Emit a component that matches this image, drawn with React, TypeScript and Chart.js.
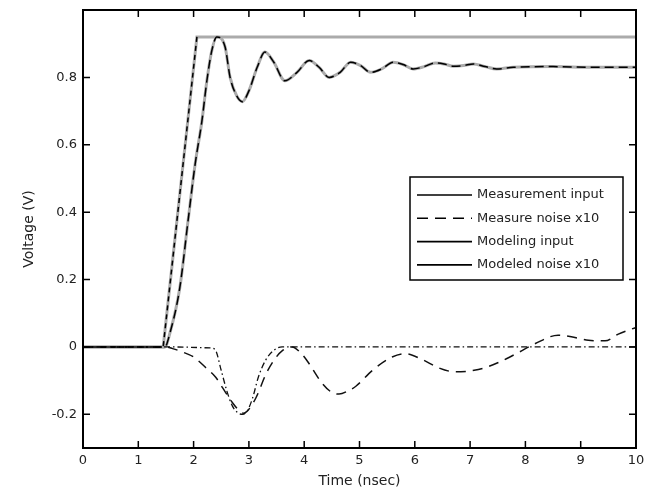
import React, { useEffect, useRef } from "react";
import { Chart, registerables } from "chart.js";

Chart.register(...registerables);

const X_TICKS = [0, 1, 2, 3, 4, 5, 6, 7, 8, 9, 10];
const Y_TICKS = [-0.2, 0, 0.2, 0.4, 0.6, 0.8];
const X_TITLE = "Time (nsec)";
const Y_TITLE = "Voltage (V)";
const LEGEND_LABELS = ["Measurement input", "Measure noise x10", "Modeling input", "Modeled noise x10"];

// Input step (black dashed over grey)
const INPUT_T = [0, 1.45, 2.06];
const INPUT_V = [0, 0, 0.92];
const MODEL_INPUT_T = [0, 1.45, 2.06, 10];
const MODEL_INPUT_V = [0, 0, 0.92, 0.92];

// Response
const RESPONSE_T = [0, 1.48, 1.57, 1.75, 1.9, 2.03, 2.15, 2.24, 2.33, 2.42, 2.57, 2.66, 2.78, 2.88, 3.0, 3.15, 3.29, 3.45, 3.65, 3.87, 4.09, 4.27, 4.45, 4.65, 4.84, 5.02, 5.2, 5.4, 5.61, 5.79, 5.97, 6.17, 6.37, 6.53, 6.7, 6.88, 7.06, 7.27, 7.48, 7.78, 8.5, 9.2, 10];
const RESPONSE_V = [0, 0, 0.04, 0.175, 0.375, 0.545, 0.67, 0.79, 0.88, 0.92, 0.89, 0.8, 0.745, 0.728, 0.76, 0.83, 0.875, 0.845, 0.79, 0.815, 0.85, 0.83, 0.8, 0.815, 0.845, 0.835, 0.815, 0.825, 0.845, 0.838, 0.825, 0.832, 0.843, 0.84, 0.833, 0.835, 0.84, 0.832, 0.825, 0.83, 0.832, 0.83, 0.83];

// Measure noise x10 (dashed)
const MEASURE_NOISE_T = [0, 1.5, 1.62, 1.8, 2.0, 2.23, 2.4, 2.52, 2.7, 2.83, 2.9, 3.0, 3.13, 3.31, 3.45, 3.6, 3.78, 3.95, 4.09, 4.32, 4.5, 4.63, 4.8, 4.94, 5.23, 5.59, 5.83, 6.13, 6.43, 6.73, 7.15, 7.5, 7.87, 8.18, 8.59, 8.83, 9.14, 9.44, 9.68, 10];
const MEASURE_NOISE_V = [0, 0, -0.005, -0.015, -0.03, -0.063, -0.09, -0.12, -0.165, -0.19, -0.197, -0.185, -0.15, -0.08, -0.04, -0.012, 0, -0.02, -0.05, -0.107, -0.135, -0.14, -0.13, -0.116, -0.07, -0.03, -0.02, -0.037, -0.062, -0.074, -0.067, -0.047, -0.017, 0.01, 0.035, 0.03, 0.02, 0.018, 0.038, 0.058];

// Modeled noise x10 (dash-dot)
const MODELED_NOISE_T = [0, 1.5, 2.3, 2.39, 2.5, 2.6, 2.7, 2.8, 2.88, 2.97, 3.07, 3.17, 3.3, 3.45, 3.6, 10];
const MODELED_NOISE_V = [0, 0, -0.003, -0.008, -0.07, -0.13, -0.175, -0.195, -0.2, -0.19, -0.15, -0.09, -0.04, -0.01, 0, 0];

const pts = (t: number[], v: number[]) => t.map((x, i) => ({ x, y: v[i] }));

const FONT = "'DejaVu Sans', sans-serif";

const framePlugin = {
  id: "frameAndLegend",
  afterDatasetsDraw(chart: any) {
    const { ctx, chartArea, scales } = chart;
    const { left, right, top, bottom } = chartArea;
    const xs = scales.x;
    const ys = scales.y;
    ctx.save();
    ctx.strokeStyle = "#000";
    ctx.lineWidth = 2;
    ctx.setLineDash([]);
    ctx.strokeRect(left, top, right - left, bottom - top);
    ctx.lineWidth = 1.5;
    const tl = 7;
    ctx.beginPath();
    xs.ticks.forEach((t: any) => {
      const px = xs.getPixelForValue(t.value);
      ctx.moveTo(px, bottom);
      ctx.lineTo(px, bottom - tl);
      ctx.moveTo(px, top);
      ctx.lineTo(px, top + tl);
    });
    ys.ticks.forEach((t: any) => {
      const py = ys.getPixelForValue(t.value);
      ctx.moveTo(left, py);
      ctx.lineTo(left + tl, py);
      ctx.moveTo(right, py);
      ctx.lineTo(right - tl, py);
    });
    ctx.stroke();

    // legend
    const bx = right - 226;
    const by = top + 167;
    const bw = 213;
    const bh = 103;
    ctx.fillStyle = "#fff";
    ctx.fillRect(bx, by, bw, bh);
    ctx.lineWidth = 1.5;
    ctx.strokeRect(bx, by, bw, bh);
    ctx.font = `13px ${FONT}`;
    ctx.textBaseline = "middle";
    ctx.textAlign = "left";
    LEGEND_LABELS.forEach((lab, i) => {
      const yy = by + 18 + i * 23.3;
      ctx.beginPath();
      ctx.lineWidth = 1.6;
      ctx.setLineDash(i === 1 ? [11, 7] : []);
      ctx.moveTo(bx + 7, yy);
      ctx.lineTo(bx + 62, yy);
      ctx.stroke();
      ctx.setLineDash([]);
      ctx.fillStyle = "#222";
      ctx.fillText(lab, bx + 67, yy);
    });
    ctx.restore();
  },
};

export default function App() {
  const ref = useRef<HTMLCanvasElement | null>(null);
  useEffect(() => {
    if (!ref.current) return;
    const chart = new Chart(ref.current, {
      type: "line",
      data: {
        datasets: [
          { label: "modelInput", data: pts(MODEL_INPUT_T, MODEL_INPUT_V), borderColor: "#ababab", borderWidth: 3, pointRadius: 0, tension: 0, order: 5 },
          { label: "input", data: pts(INPUT_T, INPUT_V), borderColor: "#000", borderWidth: 1.5, borderDash: [5, 4], pointRadius: 0, tension: 0, order: 1 },
          { label: "responseModel", data: pts(RESPONSE_T, RESPONSE_V), borderColor: "#ababab", borderWidth: 3, pointRadius: 0, cubicInterpolationMode: "monotone", order: 5 },
          { label: "responseMeasure", data: pts(RESPONSE_T, RESPONSE_V), borderColor: "#000", borderWidth: 1.5, borderDash: [9, 5], pointRadius: 0, cubicInterpolationMode: "monotone", order: 1 },
          { label: "measureNoise", data: pts(MEASURE_NOISE_T, MEASURE_NOISE_V), borderColor: "#111", borderWidth: 1.5, borderDash: [10, 7], pointRadius: 0, cubicInterpolationMode: "monotone", order: 2 },
          { label: "modeledNoise", data: pts(MODELED_NOISE_T, MODELED_NOISE_V), borderColor: "#111", borderWidth: 1.3, borderDash: [6, 3, 1.5, 3], pointRadius: 0, cubicInterpolationMode: "monotone", order: 2 },
        ],
      },
      options: {
        responsive: false,
        animation: false,
        events: [],
        layout: { padding: { top: 10, right: 9, left: 0, bottom: 0 } },
        plugins: { legend: { display: false }, tooltip: { enabled: false } },
        scales: {
          x: {
            type: "linear",
            min: 0,
            max: 10,
            afterBuildTicks: (s: any) => { s.ticks = X_TICKS.map((v) => ({ value: v })); },
            afterFit: (s: any) => { s.height = 46; s.paddingLeft = 0; s.paddingRight = 0; },
            grid: { display: false, drawTicks: false },
            border: { display: false },
            ticks: { padding: 5, color: "#222", font: { family: FONT, size: 13 }, maxRotation: 0, autoSkip: false, callback: (v: any) => String(v) },
            title: { display: true, text: X_TITLE, color: "#222", font: { family: FONT, size: 14 }, padding: { top: 0, bottom: 4 } },
          },
          y: {
            type: "linear",
            min: -0.3,
            max: 1.0,
            afterBuildTicks: (s: any) => { s.ticks = Y_TICKS.map((v) => ({ value: v })); },
            afterFit: (s: any) => { s.width = 83; s.paddingTop = 0; s.paddingBottom = 0; },
            grid: { display: false, drawTicks: false },
            border: { display: false },
            ticks: { padding: 6, color: "#222", font: { family: FONT, size: 13 }, autoSkip: false, callback: (v: any) => String(Number(Number(v).toFixed(1))) },
            title: { display: true, text: Y_TITLE, color: "#222", font: { family: FONT, size: 14 }, padding: { top: 21, bottom: 0 } },
          },
        },
      },
      plugins: [framePlugin],
    } as any);
    return () => chart.destroy();
  }, []);
  return (
    <div style={{ position: "absolute", left: 0, top: 0, width: 645, height: 494, background: "#fff" }}>
      <canvas ref={ref} width={645} height={494} style={{ display: "block" }} />
    </div>
  );
}
